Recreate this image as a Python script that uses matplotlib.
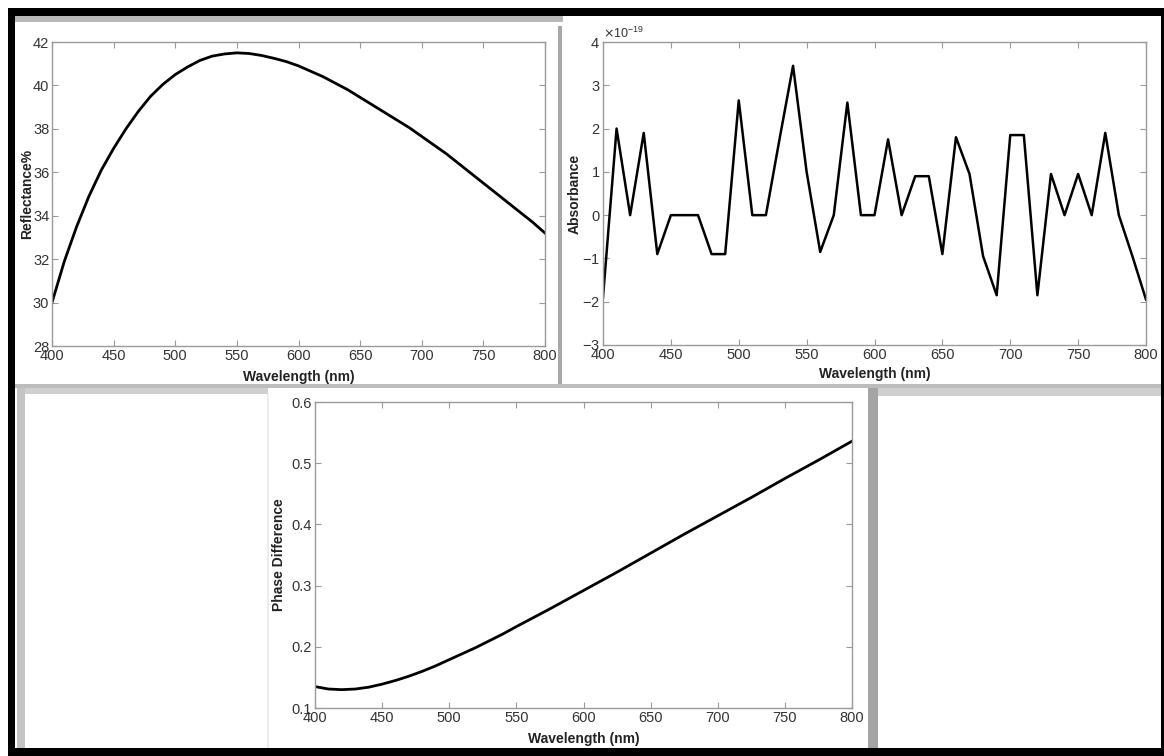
import matplotlib
matplotlib.use("Agg")
import matplotlib.pyplot as plt
from matplotlib.patches import Rectangle
from matplotlib.ticker import ScalarFormatter
import numpy as np

plt.rcParams['font.family'] = ['Liberation Sans', 'DejaVu Sans']

# --- data ---
refl_wl = list(range(400, 801, 10))
refl_val = [30.0, 31.9, 33.5, 34.9, 36.1, 37.1, 38.0, 38.8, 39.5, 40.05,
            40.5, 40.85, 41.15, 41.35, 41.45, 41.5, 41.47, 41.38, 41.25, 41.1,
            40.9, 40.65, 40.4, 40.1, 39.8, 39.45, 39.1, 38.75, 38.4, 38.05,
            37.65, 37.25, 36.85, 36.4, 35.95, 35.5, 35.05, 34.6, 34.15, 33.7,
            33.2]

abs_wl = list(range(400, 801, 10))
# absorbance in units of 1e-19
abs_val = [-1.9, 2.0, 0.0, 1.9, -0.9, 0.0, 0.0, 0.0, -0.9, -0.9,
           2.65, 0.0, 0.0, 1.75, 3.45, 1.0, -0.85, 0.0, 2.6, 0.0,
           0.0, 1.75, 0.0, 0.9, 0.9, -0.9, 1.8, 0.95, -0.95, -1.85,
           1.85, 1.85, -1.85, 0.95, 0.0, 0.95, 0.0, 1.9, 0.0, -0.95,
           -1.95]

phase_wl = [400, 410, 420, 430, 440, 450, 460, 470, 480, 490, 500, 510, 520,
            530, 540, 550, 575, 600, 625, 650, 675, 700, 725, 750, 775, 800]
phase_val = [0.135, 0.131, 0.130, 0.131, 0.134, 0.139, 0.145, 0.152, 0.160,
             0.169, 0.179, 0.189, 0.199, 0.210, 0.221, 0.233, 0.262, 0.292,
             0.322, 0.353, 0.384, 0.414, 0.444, 0.475, 0.505, 0.536]

wl_ticks = [400, 450, 500, 550, 600, 650, 700, 750, 800]

W, H = 1164, 756
fig = plt.figure(figsize=(W / 100, H / 100), dpi=100, facecolor='white')


def px_rect(x0, y0, x1, y1, color):
    # rectangle given in pixel coords measured from the top-left corner
    fig.patches.append(Rectangle((x0 / W, 1 - y1 / H), (x1 - x0) / W, (y1 - y0) / H,
                                 transform=fig.transFigure, facecolor=color,
                                 edgecolor='none', zorder=-5))


def px_axes(x0, y0, x1, y1):
    return fig.add_axes([x0 / W, 1 - y1 / H, (x1 - x0) / W, (y1 - y0) / H])


# outer black frame
px_rect(8, 8, 1164, 16, 'black')
px_rect(8, 8, 15, 756, 'black')
px_rect(1161, 8, 1164, 756, 'black')
px_rect(8, 748, 1164, 756, 'black')

# grey window edges of the pasted panels
px_rect(15, 16, 563, 22, '#b8b8b8')
px_rect(558, 26, 562, 388, '#a8a8a8')
px_rect(15, 384, 1161, 388, '#bcbcbc')
px_rect(17, 388, 25, 748, '#c4c4c4')
px_rect(25, 388, 268, 394, '#cfcfcf')
px_rect(267, 394, 269, 748, '#ececec')
px_rect(868, 388, 878, 748, '#a4a4a4')
px_rect(878, 388, 1161, 396, '#cfcfcf')

spine_col = '#9a9a9a'
tick_col = '#333333'
label_col = '#222222'


def style(ax, xlabel, ylabel, ylab_x, xlab_y):
    ax.set_facecolor('white')
    for s in ax.spines.values():
        s.set_color(spine_col)
        s.set_linewidth(1.0)
    ax.tick_params(direction='in', length=4, width=0.8, color=spine_col,
                   top=True, right=True, labelsize=10.5, labelcolor=tick_col)
    ax.tick_params(axis='x', pad=2)
    ax.tick_params(axis='y', pad=2)
    ax.set_xlim(400, 800)
    ax.set_xticks(wl_ticks)
    ax.set_xlabel(xlabel, fontsize=10, fontweight='bold', color=label_col)
    ax.set_ylabel(ylabel, fontsize=10, fontweight='bold', color=label_col)
    ax.yaxis.set_label_coords(ylab_x, 0.5)
    ax.xaxis.set_label_coords(0.5, xlab_y)


# panel 1: reflectance
ax1 = px_axes(52, 42, 545, 346)
ax1.plot(refl_wl, refl_val, color='black', lw=2.0)
ax1.set_ylim(28, 42)
ax1.set_yticks(range(28, 43, 2))
style(ax1, 'Wavelength (nm)', 'Reflectance%', -0.037, -0.078)

# panel 2: absorbance
ax2 = px_axes(603, 42, 1146, 345)
ax2.plot(abs_wl, np.array(abs_val) * 1e-19, color='black', lw=1.8)
ax2.set_ylim(-3e-19, 4e-19)
ax2.set_yticks(np.arange(-3, 5) * 1e-19)
fmt = ScalarFormatter(useMathText=True)
ax2.yaxis.set_major_formatter(fmt)
style(ax2, 'Wavelength (nm)', 'Absorbance', -0.040, -0.073)
ax2.yaxis.get_offset_text().set_fontsize(9)
ax2.yaxis.get_offset_text().set_color(tick_col)

# panel 3: phase difference
ax3 = px_axes(315, 402, 852, 708)
ax3.plot(phase_wl, phase_val, color='black', lw=2.0)
ax3.set_ylim(0.1, 0.6)
ax3.set_yticks([0.1, 0.2, 0.3, 0.4, 0.5, 0.6])
style(ax3, 'Wavelength (nm)', 'Phase Difference', -0.054, -0.078)

fig.savefig('out.png', dpi=100, facecolor='white')
